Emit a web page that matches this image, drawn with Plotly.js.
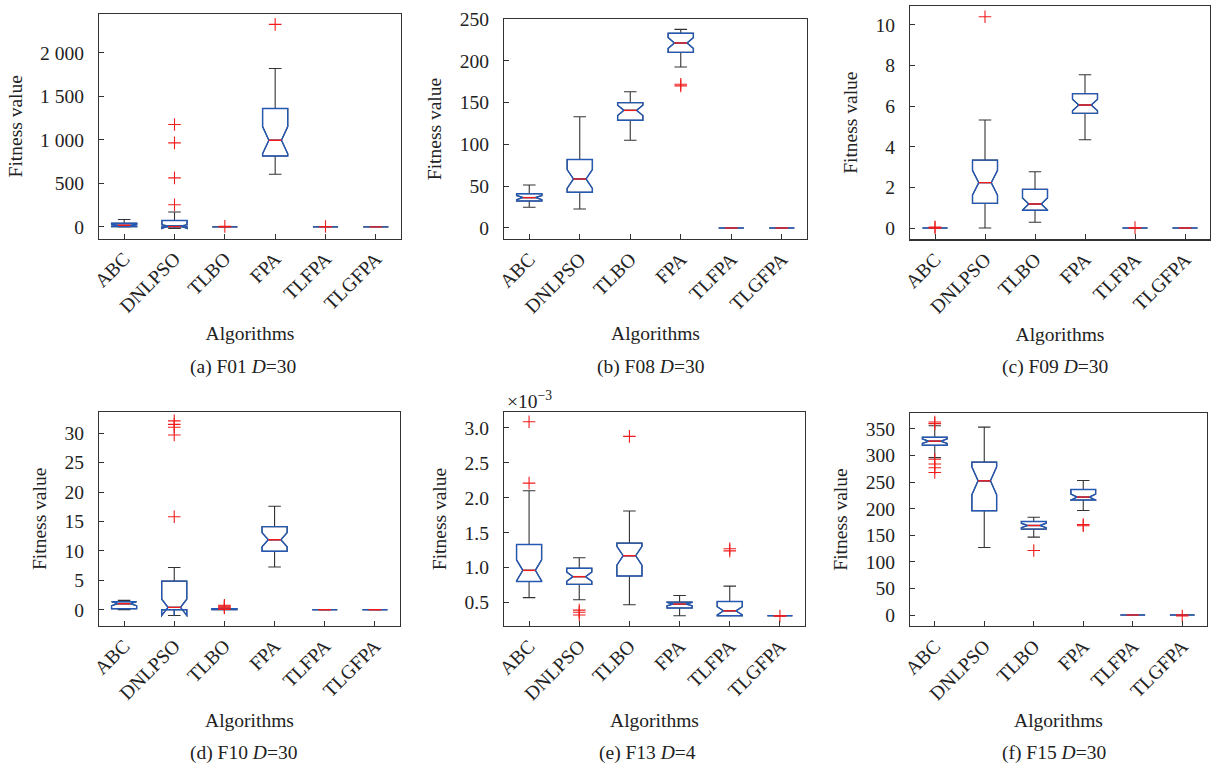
<!DOCTYPE html>
<html><head><meta charset="utf-8">
<script src="https://cdn.plot.ly/plotly-3.0.1.min.js"></script>
<style>html,body{margin:0;padding:0;background:#fff}#chart{width:1211px;height:767px}</style>
</head><body><div id="chart"></div>
<script>
const algorithms = ['ABC', 'DNLPSO', 'TLBO', 'FPA', 'TLFPA', 'TLGFPA'];

// (a) F01 D=30
const f01Lower  = [0, 0, 0, 605, 0, 0];
const f01Q1     = [3, 0, 0, 815, 0, 0];
const f01Median = [20, 3, 0, 996, 0, 0];
const f01Q3     = [42, 73, 0, 1360, 0, 0];
const f01Upper  = [85, 172, 0, 1820, 0, 0];
const f01Notch  = [11, 21, 0, 156, 0, 0];
const f01Outliers = [[], [1176, 965, 563, 255], [6], [2326], [5], []];

// (b) F08 D=30
const f08Lower  = [24.7, 22.7, 104.9, 192.6, 0, 0];
const f08Q1     = [32.3, 42.7, 128.8, 210.1, 0, 0];
const f08Median = [36.3, 58.6, 140.7, 221.3, 0, 0];
const f08Q3     = [41, 82, 150, 232.9, 0, 0];
const f08Upper  = [51.4, 133, 163, 237.6, 0, 0];
const f08Notch  = [2.5, 11.3, 6.1, 6.5, 0, 0];
const f08Outliers = [[], [], [], [172, 170], [], []];

// (c) F09 D=30
const f09Lower  = [0, 0, 0.28, 4.34, 0, 0];
const f09Q1     = [0, 1.21, 0.87, 5.64, 0, 0];
const f09Median = [0, 2.23, 1.18, 6.05, 0, 0];
const f09Q3     = [0, 3.34, 1.90, 6.61, 0, 0];
const f09Upper  = [0, 5.31, 2.77, 7.54, 0, 0];
const f09Notch  = [0, 0.61, 0.30, 0.28, 0, 0];
const f09Outliers = [[0.05, 0.02], [10.39], [], [], [0.02], []];

// (d) F10 D=30
const f10Lower  = [0, 0, 0, 7.26, 0, 0];
const f10Q1     = [0.17, 0, 0.02, 9.93, 0, 0];
const f10Median = [1.02, 0.4, 0.08, 11.9, 0, 0];
const f10Q3     = [1.36, 4.86, 0.15, 14.12, 0, 0];
const f10Upper  = [1.59, 7.18, 0.3, 17.59, 0, 0];
const f10Notch  = [0.34, 1.39, 0.04, 1.2, 0, 0];
const f10Outliers = [[], [32.1, 31.5, 31.0, 29.7, 15.8], [0.75, 0.6, 0.45, 0.3], [], [], []];

// (e) F13 D=4  (values x 10^-3)
const f13Lower  = [0.57, 0.54, 0.467, 0.31, 0.31, 0.309];
const f13Q1     = [0.80, 0.76, 0.88, 0.42, 0.31, 0.309];
const f13Median = [0.96, 0.87, 1.17, 0.477, 0.38, 0.309];
const f13Q3     = [1.33, 0.99, 1.35, 0.505, 0.515, 0.309];
const f13Upper  = [2.10, 1.14, 1.81, 0.60, 0.735, 0.309];
const f13Notch  = [0.152, 0.066, 0.135, 0.024, 0.059, 0];
const f13Outliers = [[3.09, 2.21], [0.39, 0.36, 0.32], [2.88], [], [1.27, 1.24], [0.305]];

// (f) F15 D=30
const f15Lower  = [296, 127, 146.4, 196.7, 0, 0];
const f15Q1     = [319.4, 196, 161.5, 216.2, 0, 0];
const f15Median = [327, 252.4, 168.4, 221.8, 0, 0];
const f15Q3     = [334.4, 287.5, 176, 236, 0, 0];
const f15Upper  = [356, 353.5, 184, 253, 0, 0];
const f15Notch  = [4.3, 26.2, 4.2, 5.7, 0, 0];
const f15Outliers = [[363, 360, 293, 284, 277, 268], [], [121.3], [170, 168], [], [-2]];

const captions = ['(a) F01 <i>D</i>=30', '(b) F08 <i>D</i>=30', '(c) F09 <i>D</i>=30',
                  '(d) F10 <i>D</i>=30', '(e) F13 <i>D</i>=4', '(f) F15 <i>D</i>=30'];

const panels = [
  {lower: f01Lower, q1: f01Q1, median: f01Median, q3: f01Q3, upper: f01Upper, notch: f01Notch, outliers: f01Outliers},
  {lower: f08Lower, q1: f08Q1, median: f08Median, q3: f08Q3, upper: f08Upper, notch: f08Notch, outliers: f08Outliers},
  {lower: f09Lower, q1: f09Q1, median: f09Median, q3: f09Q3, upper: f09Upper, notch: f09Notch, outliers: f09Outliers},
  {lower: f10Lower, q1: f10Q1, median: f10Median, q3: f10Q3, upper: f10Upper, notch: f10Notch, outliers: f10Outliers},
  {lower: f13Lower, q1: f13Q1, median: f13Median, q3: f13Q3, upper: f13Upper, notch: f13Notch, outliers: f13Outliers},
  {lower: f15Lower, q1: f15Q1, median: f15Median, q3: f15Q3, upper: f15Upper, notch: f15Notch, outliers: f15Outliers}
];

// ---- styling / layout (not data) ----
const W = 1211, H = 767;
const BLUE = '#2458b3', BLACK = '#333333', RED = '#f01c1c';
const BOX_W = 0.5, NOTCH_W = 0.25;
const FONT = '"Liberation Serif", "Times New Roman", Times, serif';
const FS = 19.5;
// plot frames in pixels: [left, right, top, bottom]
const frames = [
  [99, 401, 14, 238.5], [504, 807, 19, 239], [910, 1210, 6, 239.3],
  [99, 400, 412, 625.7], [504, 805, 412, 626], [910, 1207, 413, 626]
];
const yRanges = [[-133, 2445], [-13.2, 250], [-0.556, 10.92], [-2.72, 33.6], [0.163, 3.229], [-20.7, 380]];
const yDticks = [500, 50, 2, 5, 0.5, 50];
const yFormats = ['', '', '', '', '.1f', ''];
const ySep = [true, false, false, false, false, false];
const capPos = [[243, 367], [650, 367], [1055, 367], [244, 753], [647, 753], [1054, 753]];

const pos = algorithms.map((_, i) => i + 1);
const traces = [];
const layout = {
  width: W, height: H, margin: {l: 0, r: 0, t: 0, b: 0},
  paper_bgcolor: '#fff', plot_bgcolor: '#fff', showlegend: false,
  boxmode: 'overlay', separators: '. ',
  font: {family: FONT, size: FS, color: '#222'},
  annotations: []
};

panels.forEach((p, k) => {
  const xa = k === 0 ? 'x' : 'x' + (k + 1);
  const ya = k === 0 ? 'y' : 'y' + (k + 1);
  const base = {
    type: 'box', xaxis: xa, yaxis: ya, x: pos,
    q1: p.q1, median: p.median, q3: p.q3, notchspan: p.notch,
    notched: true, notchwidth: NOTCH_W, width: BOX_W,
    fillcolor: 'rgba(0,0,0,0)', boxpoints: false, hoverinfo: 'skip', showlegend: false
  };
  // whiskers (black) with caps
  traces.push(Object.assign({}, base, {lowerfence: p.lower, upperfence: p.upper,
    whiskerwidth: 0.5, line: {color: BLACK, width: 1.1}}));
  // blue notched box on top
  traces.push(Object.assign({}, base, {lowerfence: p.q1, upperfence: p.q3,
    whiskerwidth: 0, line: {color: BLUE, width: 1.4}}));
  // red median segments (span the notch width)
  const half = BOX_W / 2 * (1 - 2 * NOTCH_W);
  const mx = [], my = [];
  pos.forEach((c, i) => { mx.push(c - half, c + half, null); my.push(p.median[i], p.median[i], null); });
  traces.push({type: 'scatter', mode: 'lines', xaxis: xa, yaxis: ya, x: mx, y: my,
    line: {color: RED, width: 1.4}, hoverinfo: 'skip', showlegend: false});
  // outliers
  const ox = [], oy = [];
  p.outliers.forEach((arr, i) => arr.forEach(v => { ox.push(pos[i]); oy.push(v); }));
  traces.push({type: 'scatter', mode: 'markers', xaxis: xa, yaxis: ya, x: ox, y: oy,
    marker: {symbol: 'cross-thin-open', size: 9, color: RED, line: {color: RED, width: 1.1}},
    hoverinfo: 'skip', showlegend: false, cliponaxis: false});

  const f = frames[k];
  const axisLine = {showline: true, linecolor: BLACK, linewidth: 1.2, mirror: true,
    ticks: 'inside', ticklen: 5, tickwidth: 1, tickcolor: BLACK, showgrid: false, zeroline: false,
    tickfont: {family: FONT, size: FS, color: '#222'}};
  layout['xaxis' + (k === 0 ? '' : k + 1)] = Object.assign({}, axisLine, {
    domain: [f[0] / W, f[1] / W], anchor: ya, range: [0.5, 6.5],
    tickmode: 'array', tickvals: pos, ticktext: algorithms, tickangle: -45,
    title: {text: 'Algorithms', font: {family: FONT, size: FS, color: '#222'}, standoff: 10}
  });
  layout['yaxis' + (k === 0 ? '' : k + 1)] = Object.assign({}, axisLine, {
    domain: [(H - f[3]) / H, (H - f[2]) / H], anchor: xa, range: yRanges[k],
    tick0: 0, dtick: yDticks[k], tickformat: yFormats[k], separatethousands: ySep[k],
    ticklabelstandoff: 10,
    title: {text: 'Fitness value', font: {family: FONT, size: FS, color: '#222'}, standoff: 12}
  });
  layout.annotations.push({xref: 'paper', yref: 'paper', x: capPos[k][0] / W, y: (H - capPos[k][1]) / H,
    xanchor: 'center', yanchor: 'middle', text: captions[k], showarrow: false,
    font: {family: FONT, size: FS, color: '#222'}});
});

layout.annotations.push({xref: 'paper', yref: 'paper', x: 505 / W, y: (H - 400) / H,
  xanchor: 'left', yanchor: 'middle', text: '\u00d710<sup>\u22123</sup>', showarrow: false,
  font: {family: FONT, size: FS, color: '#222'}});

Plotly.newPlot('chart', traces, layout, {staticPlot: true, displayModeBar: false});
</script>
</body></html>
